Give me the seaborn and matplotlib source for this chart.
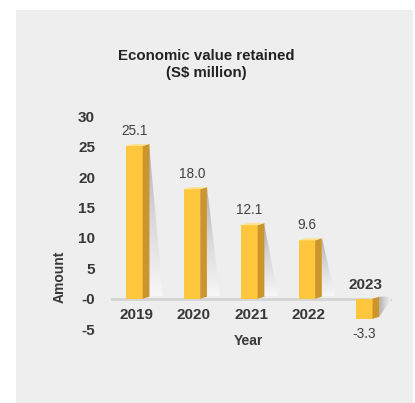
import numpy as np
import pandas as pd
import matplotlib
matplotlib.use("Agg")
import matplotlib.pyplot as plt
import seaborn as sns
from matplotlib.patches import Polygon, Rectangle
from matplotlib.colors import LinearSegmentedColormap

# ---- data ----
years = ["2019", "2020", "2021", "2022", "2023"]
values = [25.1, 18.0, 12.1, 9.6, -3.3]
y_ticks = [-5, 0, 5, 10, 15, 20, 25, 30]
y_tick_labels = ["-5", "-0", "5", "10", "15", "20", "25", "30"]
title = "Economic value retained\n(S$ million)"
x_label = "Year"
y_label = "Amount"

# ---- style ----
sns.set_style("white")
plt.rcParams["font.family"] = ["Liberation Sans", "DejaVu Sans"]

FRONT = "#FEC63C"
SIDE = "#CC952C"
TOP = "#FFE291"
TEXT_DARK = "#383838"
TEXT_VAL = "#404040"
PANEL = "#EEEEEE"
AXLINE = "#D3D3D3"

fig = plt.figure(figsize=(4.15, 4.03), dpi=100, facecolor="white")
fig.add_artist(Rectangle((16 / 415, 0), (413 - 16) / 415, 1 - 10 / 403,
                         transform=fig.transFigure, facecolor=PANEL,
                         edgecolor="none", zorder=-5))

ax = fig.add_axes([111 / 415, 1 - 347.5 / 403, 281 / 415, 243.5 / 403])
ax.set_facecolor("none")

df = pd.DataFrame({"Year": years, "Amount": values})
sns.barplot(data=df, x="Year", y="Amount", color=FRONT, saturation=1,
            width=0.287, ax=ax, linewidth=0, zorder=3, errorbar=None)

XLIM = (-0.437, 4.454)
YLIM = (-8, 32)

shift = -0.028
dx = 0.117
dy = 0.35
sw = 0.235

shadow_cmap = LinearSegmentedColormap.from_list("sh", ["#F7F7F7", "#DADADA", "#B0B0B0"])

container = ax.containers[0]
for p in list(container.patches):
    x0 = p.get_x() + shift
    p.set_x(x0)
    w = p.get_width()
    h = p.get_height()
    x1 = x0 + w
    top = max(0, h)
    bot = min(0, h)
    # side face
    ax.add_patch(Polygon([(x1, bot), (x1, top), (x1 + dx, top + dy), (x1 + dx, bot + dy)],
                         closed=True, facecolor=SIDE, edgecolor="none", zorder=3))
    if h > 0:
        # top face
        ax.add_patch(Polygon([(x0, top), (x1, top), (x1 + dx, top + dy), (x0 + dx, top + dy)],
                             closed=True, facecolor=TOP, edgecolor="none", zorder=3))
        base = 0.5
        verts = [(x1 + dx, top + dy), (x1 + dx, base), (x1 + dx + sw, base)]
        grad = np.linspace(0, 1, 256).reshape(-1, 1)
        ext = (x1 + dx, x1 + dx + sw, base, top + dy)
    else:
        verts = [(x1 + dx, dy), (x1 + dx + sw, dy), (x1 + dx, bot + dy)]
        grad = np.linspace(1, 0, 256).reshape(1, -1)
        ext = (x1 + dx, x1 + dx + sw, bot + dy, dy)
    clip = Polygon(verts, closed=True, facecolor="none", edgecolor="none")
    ax.add_patch(clip)
    im = ax.imshow(grad, extent=ext, origin="lower", cmap=shadow_cmap,
                   aspect="auto", zorder=2, interpolation="bilinear")
    im.set_clip_path(clip)

# value labels
ax.bar_label(container, fmt="%.1f", padding=6, fontsize=9.8, color=TEXT_VAL)

# zero line
ax.axhline(0, color=AXLINE, lw=1.9, zorder=1)

# category labels (above the line for negative bars)
for i, (yr, v) in enumerate(zip(years, values)):
    ypos = -2.61 if v >= 0 else 2.22
    ax.text(i, ypos, yr, ha="center", va="center", fontsize=11,
            fontweight="bold", color=TEXT_DARK)

ax.set_xlim(*XLIM)
ax.set_ylim(*YLIM)
ax.set_xticks([])
ax.set_yticks(y_ticks)
ax.set_yticklabels(y_tick_labels, fontsize=11, fontweight="bold", color=TEXT_DARK)
ax.tick_params(axis="y", length=0, pad=11.5)
for s in ax.spines.values():
    s.set_visible(False)

ax.set_xlabel(x_label, fontsize=10, fontweight="bold", color=TEXT_DARK)
ax.xaxis.set_label_coords(0.489, 0.057)
ax.set_ylabel(y_label, fontsize=10, fontweight="bold", color=TEXT_DARK)
ax.yaxis.set_label_coords(-0.157, 0.29)

fig.suptitle(title, x=0.497, y=1 - 48.5 / 403, va="top", fontsize=10.8,
             fontweight="bold", color="#222222", linespacing=1.3)

fig.savefig("out.png", dpi=100, facecolor="white")
